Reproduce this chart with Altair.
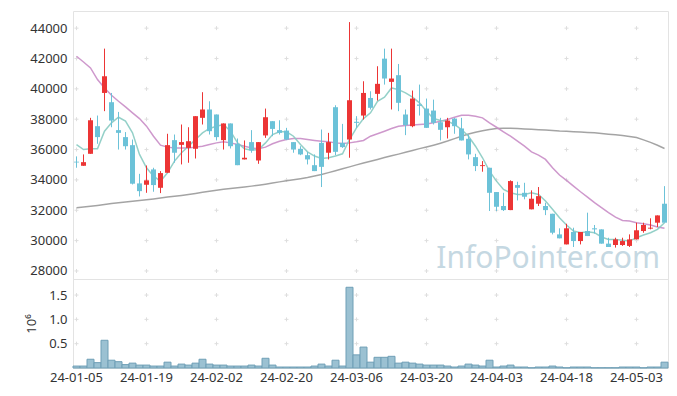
import altair as alt
import pandas as pd
import itertools

# ---- trading calendar (KRX, 2024) ----
holidays = ["2024-02-09", "2024-02-12", "2024-03-01", "2024-04-10", "2024-05-01", "2024-05-06"]
dates = [d.strftime("%y-%m-%d") for d in pd.bdate_range("2024-01-05", "2024-05-10")
         if d.strftime("%Y-%m-%d") not in holidays]

opens = [35200, 34930, 35720, 37540, 39730, 39120, 37280, 36820, 36290, 33770,
         33680, 34690, 33480, 34470, 36620, 36310, 36110, 36050, 38090, 38640,
         38310, 36620, 37720, 36380, 35350, 36490, 35280, 36930, 37870, 37280,
         37250, 36490, 36050, 35630, 34970, 36440, 35790, 38790, 36440, 36660,
         37830, 38240, 39400, 39670, 41990, 40460, 40900, 38310, 37540, 38970,
         38700, 38570, 37800, 37470, 38040, 37390, 36710, 35500, 34910, 34800,
         33200, 32280, 32010, 33660, 33150, 32060, 32430, 32280, 31770, 30410,
         29750, 30570, 29970, 30630, 30810, 30740, 29800, 29710, 29710, 29650,
         30080, 30630, 30790, 31180, 32430]
highs = [35550, 35680, 38090, 38240, 42650, 39730, 38480, 37150, 36660, 34400,
         34950, 34800, 34580, 37040, 36990, 37650, 37470, 38200, 39780, 39180,
         38310, 37720, 37720, 36730, 36600, 37280, 36490, 38700, 37870, 37930,
         37430, 36490, 36220, 35830, 35680, 37320, 37100, 38920, 37690, 44400,
         38200, 40500, 39840, 41490, 42650, 42650, 41640, 38640, 39890, 40280,
         39360, 39290, 38090, 38090, 38090, 38090, 36990, 35720, 35240, 34800,
         33200, 33150, 33970, 33880, 33810, 33310, 33530, 32500, 31770, 30810,
         31110, 30850, 30570, 31840, 31030, 30740, 30190, 30190, 30190, 30410,
         31180, 31180, 31470, 31660, 33590]
lows = [34800, 34930, 35720, 36380, 38530, 37470, 36000, 36000, 33700, 32910,
        33150, 33220, 33130, 34470, 35130, 35020, 35130, 35410, 37650, 36990,
        36600, 36000, 36070, 34970, 35350, 35790, 35060, 36770, 36880, 36990,
        36620, 35790, 35630, 35020, 34580, 33530, 35350, 35630, 36110, 35460,
        37430, 37980, 38640, 39230, 40280, 38640, 38530, 36950, 37470, 38240,
        37430, 37650, 36600, 36730, 37040, 36600, 35350, 34580, 34540, 31950,
        31950, 31950, 32010, 32650, 32720, 32060, 32280, 31680, 30410, 30150,
        29750, 29580, 29750, 30300, 30460, 29800, 29580, 29540, 29650, 29580,
        30080, 30520, 30740, 30900, 31180]
closes = [35150, 35170, 37930, 36820, 40830, 37910, 37100, 36220, 33750, 33260,
          33970, 33660, 34450, 36290, 35790, 36490, 36550, 38200, 38640, 37210,
          36820, 37720, 36220, 34970, 35460, 35940, 36490, 38130, 37360, 37100,
          36660, 36000, 35680, 35350, 34580, 34860, 36490, 35850, 36160, 39250,
          37760, 39730, 38750, 40330, 40680, 40680, 39080, 37610, 39360, 38880,
          37430, 37760, 37300, 37910, 37540, 36600, 35680, 34910, 34970, 33150,
          32230, 32010, 33920, 33480, 32890, 32760, 32930, 32010, 30520, 30150,
          30810, 29970, 30570, 30300, 30740, 29800, 29580, 30080, 29970, 30080,
          30680, 31030, 30850, 31660, 31180]
ma5 = [36330, 36000, 36050, 36050, 37210, 37760, 38130, 37870, 37100, 35680,
       34800, 34250, 33920, 34470, 35240, 35790, 36220, 36660, 37100, 37390,
       37540, 37650, 37210, 36440, 36050, 35960, 36000, 36440, 36990, 37170,
       37170, 36880, 36330, 35850, 35570, 35410, 35460, 35570, 35720, 36660,
       37430, 38040, 38420, 39180, 39450, 40060, 39950, 39730, 39450, 39080,
       38530, 38040, 37910, 37870, 37650, 37320, 36880, 36220, 35460, 34580,
       33920, 33370, 33150, 33040, 33040, 33150, 33040, 32610, 32060, 31510,
       31030, 30630, 30520, 30590, 30520, 30240, 30080, 30080, 30020, 29970,
       30190, 30370, 30520, 30740, 31180]
ma20 = [42150, 41770, 41380, 40610, 40060, 39580, 39180, 38810, 38420, 38040,
        37540, 36880, 36290, 36160, 36110, 36110, 36110, 36160, 36220, 36330,
        36440, 36510, 36440, 36330, 36220, 36110, 36050, 36160, 36380, 36550,
        36660, 36730, 36730, 36660, 36600, 36550, 36510, 36440, 36400, 36440,
        36510, 36600, 36880, 37040, 37210, 37390, 37540, 37580, 37610, 37650,
        37690, 37760, 37870, 37980, 38130, 38260, 38260, 38200, 38090, 37760,
        37470, 37170, 36880, 36550, 36220, 35850, 35630, 35350, 34800, 34320,
        33970, 33590, 33220, 32870, 32500, 32170, 31840, 31550, 31330, 31290,
        31180, 31110, 31030, 30900, 30810]
ma60 = [32170, 32220, 32270, 32320, 32380, 32440, 32490, 32540, 32590, 32640,
        32690, 32740, 32800, 32870, 32920, 32980, 33040, 33110, 33180, 33250,
        33320, 33380, 33440, 33490, 33540, 33590, 33650, 33720, 33790, 33870,
        33940, 34010, 34080, 34160, 34260, 34360, 34480, 34600, 34730, 34860,
        34990, 35110, 35230, 35350, 35470, 35590, 35700, 35820, 35940, 36060,
        36170, 36290, 36420, 36560, 36720, 36880, 37020, 37140, 37240, 37320,
        37380, 37400, 37400, 37380, 37350, 37330, 37310, 37290, 37260, 37220,
        37200, 37180, 37160, 37130, 37100, 37060, 37010, 36970, 36920, 36860,
        36790, 36640, 36470, 36280, 36070]
volume_m = [0.04, 0.04, 0.18, 0.11, 0.57, 0.16, 0.13, 0.07, 0.10, 0.06,
            0.06, 0.04, 0.04, 0.12, 0.04, 0.08, 0.06, 0.10, 0.18, 0.08,
            0.06, 0.06, 0.04, 0.04, 0.04, 0.06, 0.04, 0.20, 0.06, 0.02,
            0.02, 0.02, 0.02, 0.02, 0.04, 0.08, 0.04, 0.16, 0.04, 1.66,
            0.27, 0.43, 0.12, 0.22, 0.22, 0.24, 0.10, 0.12, 0.10, 0.08,
            0.06, 0.06, 0.06, 0.04, 0.02, 0.04, 0.08, 0.06, 0.04, 0.16,
            0.02, 0.04, 0.06, 0.02, 0.02, 0.005, 0.02, 0.02, 0.04, 0.02,
            0.005, 0.02, 0.02, 0.02, 0.005, 0.005, 0.005, 0.005, 0.02, 0.02,
            0.02, 0.005, 0.02, 0.02, 0.12]

price_ticks = [28000, 30000, 32000, 34000, 36000, 38000, 40000, 42000, 44000]
volume_ticks = [0.5, 1.0, 1.5]
label_dates = dates[::10]

df = pd.DataFrame({"d": dates, "o": opens, "h": highs, "l": lows, "c": closes,
                   "ma5": ma5, "ma20": ma20, "ma60": ma60, "v": volume_m})
grid_p = pd.DataFrame(list(itertools.product(label_dates, price_ticks)), columns=["d", "y"])
grid_v = pd.DataFrame(list(itertools.product(label_dates, volume_ticks)), columns=["d", "y"])

FONT = "Noto Sans"
RED = "#ec3535"
BLUE = "#6cc2d8"
W = 595
CROSS = "M-1,0L1,0M0,-1L0,1"

xscale = alt.Scale(domain=dates, paddingInner=0, paddingOuter=0)
x_top = alt.X("d:O", sort=None, scale=xscale, axis=None)
yscale_p = alt.Scale(domain=[27470, 45130], nice=False, zero=False)
ax_p = alt.Axis(values=price_ticks, format="d", title=None, ticks=False, tickCount=9,
                domain=False, grid=False, labelPadding=6, labelOverlap=False)

def yp(field):
    return alt.Y(f"{field}:Q", scale=yscale_p, axis=ax_p, title=None)

base = alt.Chart(df)
watermark = alt.Chart(pd.DataFrame({"t": ["InfoPointer.com"]})).mark_text(
    font=FONT, fontSize=30, color="#c5d8e2", align="right", baseline="alphabetic"
).encode(x=alt.value(587), y=alt.value(257), text="t:N")

cross_p = alt.Chart(grid_p).mark_point(shape=CROSS, filled=False, size=16,
                                       stroke="#dedede", strokeWidth=1, opacity=1).encode(x=x_top, y=yp("y"))

def ma_line(field, color):
    return base.mark_line(color=color, strokeWidth=1.5, opacity=0.9).encode(
        x=x_top, y=yp(field))

up = alt.condition("datum.c >= datum.o", alt.value(RED), alt.value(BLUE))
wicks = base.mark_rule(strokeWidth=1).encode(x=x_top, y=yp("l"), y2="h:Q", color=up)
bodies = base.mark_bar(size=5).encode(x=x_top, y=yp("o"), y2="c:Q", color=up)

price = alt.layer(watermark, cross_p, ma_line("ma60", "#9a9a9a"), ma_line("ma20", "#c98dc6"),
                  ma_line("ma5", "#88cbc2"), wicks, bodies).properties(width=W, height=268)

x_bot = alt.X("d:O", sort=None, scale=xscale,
              axis=alt.Axis(values=label_dates, labelAngle=0, ticks=False, domain=False,
                            title=None, labelPadding=3, labelOverlap=False))
yscale_v = alt.Scale(domain=[0, 1.83], nice=False)
ax_v = alt.Axis(values=volume_ticks, format=".1f", title="10⁶", ticks=False,
                domain=False, grid=False, labelPadding=6, titlePadding=10,
                titleFontWeight="normal", labelOverlap=False)
cross_v = alt.Chart(grid_v).mark_point(shape=CROSS, filled=False, size=16,
                                       stroke="#dedede", strokeWidth=1, opacity=1).encode(
    x=x_bot, y=alt.Y("y:Q", scale=yscale_v, axis=ax_v))
vol = base.mark_bar(color="#9bc1d2", stroke="#6f9fb6", strokeWidth=1).encode(
    x=x_bot, y=alt.Y("v:Q", scale=yscale_v, axis=ax_v))
volume = alt.layer(cross_v, vol).properties(width=W, height=89)

chart = alt.vconcat(price, volume, spacing=0, bounds="flush").properties(
    padding={"left": 17, "top": 2, "right": 0, "bottom": 0}
).configure_axis(
    labelFont=FONT, labelFontSize=13, labelColor="#333333",
    titleFont=FONT, titleFontSize=13, titleColor="#333333"
).configure_view(stroke="#e3e3e3")

chart.save("out.html", embed_options={"renderer": "svg", "actions": False})
